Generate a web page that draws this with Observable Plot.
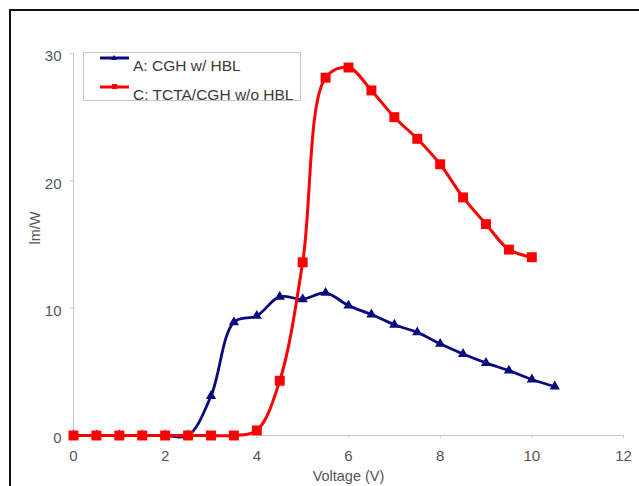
<!DOCTYPE html>
<html>
<head>
<meta charset="utf-8">
<script src="https://cdn.jsdelivr.net/npm/d3@7"></script>
<script src="https://cdn.jsdelivr.net/npm/@observablehq/plot@0.6"></script>
<style>
  html, body { margin: 0; padding: 0; background: #fff; }
  #wrap { position: relative; width: 639px; height: 486px; overflow: hidden; font-family: "Liberation Sans", Arial, sans-serif; }
  #frame { position: absolute; left: 9px; top: 9px; width: 700px; height: 600px; border-left: 2px solid #111; border-top: 2px solid #111; pointer-events: none; }
  #legend { position: absolute; left: 83px; top: 52px; width: 216px; height: 47px; border: 1px solid #c8c8c8; background: #fff; font-size: 15.5px; color: #3a3a3a; }
  .item { position: absolute; left: 16px; display: flex; align-items: center; white-space: nowrap; }
  .item svg { margin-right: 3px; }
</style>
</head>
<body>
<div id="wrap"></div>
<script>
const voltage = [0,0.5,1,1.5,2,2.5,3,3.5,4,4.5,5,5.5,6,6.5,7,7.5,8,8.5,9,9.5,10,10.5];
const seriesA = [0,0,0,0,0,0,3.1,8.9,9.4,10.9,10.7,11.2,10.2,9.5,8.7,8.1,7.2,6.4,5.7,5.1,4.4,3.85];
const voltageC = [0,0.5,1,1.5,2,2.5,3,3.5,4,4.5,5,5.5,6,6.5,7,7.5,8,8.5,9,9.5,10];
const seriesC = [0,0,0,0,0,0,0,0,0.4,4.3,13.6,28.1,28.9,27.1,25.0,23.3,21.3,18.7,16.6,14.6,14.0];
const nameA = "A: CGH w/ HBL";
const nameC = "C: TCTA/CGH w/o HBL";
const xTicks = [0,2,4,6,8,10,12];
const yTicks = [0,10,20,30];
const colorA = "#0a0a80";
const colorC = "#ff0000";

const dataA = voltage.map((v,i) => ({x: v, y: seriesA[i]}));
const dataC = voltageC.map((v,i) => ({x: v, y: seriesC[i]}));

const chart = Plot.plot({
  width: 639,
  height: 486,
  marginLeft: 73,
  marginRight: 16,
  marginTop: 53,
  marginBottom: 51,
  style: {fontFamily: "Liberation Sans, Arial, sans-serif", fontSize: "15px", color: "#555", background: "transparent"},
  x: {domain: [0,12], label: null},
  y: {domain: [0,30], label: null},
  marks: [
    Plot.ruleX([0], {stroke: "#c8c8c8", y1: 0, y2: 30}),
    Plot.ruleY([0], {stroke: "#c8c8c8"}),
    Plot.axisX({ticks: xTicks, tickSize: 3, tickPadding: 12, stroke: "#c8c8c8", fill: "#555", fontSize: 15, label: null}),
    Plot.axisY({ticks: yTicks, tickSize: 3, text: null, stroke: "#c8c8c8", label: null}),
    Plot.axisY({ticks: yTicks, tickSize: 0, tickPadding: 12, dy: 3, fill: "#555", fontSize: 15, label: null}),
    Plot.line(dataA, {x: "x", y: "y", stroke: colorA, strokeWidth: 2.8, curve: "catmull-rom"}),
    Plot.dot(dataA, {x: "x", y: "y", symbol: "triangle", fill: colorA, r: 3.8}),
    Plot.line(dataC, {x: "x", y: "y", stroke: colorC, strokeWidth: 3, curve: "catmull-rom"}),
    Plot.dot(dataC, {x: "x", y: "y", symbol: "square", fill: colorC, r: 5.6}),
    Plot.text(["lm/W"], {frameAnchor: "left", dx: -38, rotate: -90, fill: "#555", fontSize: 14.5}),
    Plot.text(["Voltage (V)"], {frameAnchor: "bottom", dy: 45, fill: "#555", fontSize: 14.5})
  ]
});

const wrap = document.getElementById("wrap");
wrap.appendChild(chart);
const frame = document.createElement("div");
frame.id = "frame";
wrap.appendChild(frame);

const legend = document.createElement("div");
legend.id = "legend";
function item(top, color, shape, label) {
  const d = document.createElement("div");
  d.className = "item";
  d.style.top = top + "px";
  const marker = shape === "tri"
    ? `<path d="M14,2 L17,7 L11,7 Z" fill="${color}"/>`
    : `<rect x="12" y="2" width="5" height="5" fill="${color}"/>`;
  d.innerHTML = `<svg width="30" height="24"><line x1="0" y1="5" x2="29" y2="5" stroke="${color}" stroke-width="3"/>${marker}</svg><span style="margin-top:2px">${label}</span>`;
  legend.appendChild(d);
}
item(0, colorA, "tri", nameA);
item(29, colorC, "sq", nameC);
wrap.appendChild(legend);
</script>
</body>
</html>
